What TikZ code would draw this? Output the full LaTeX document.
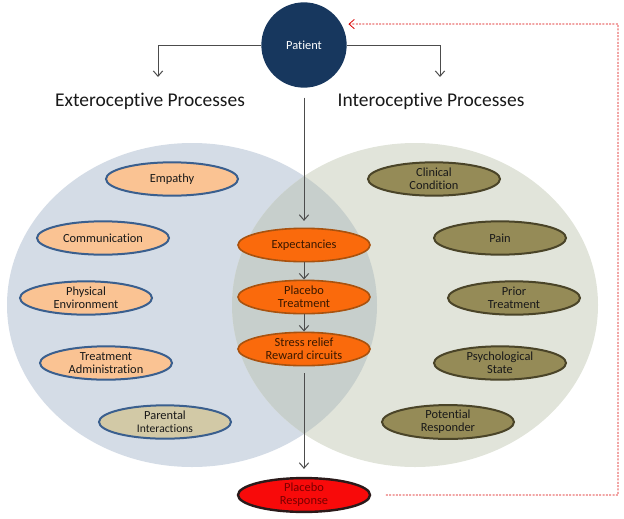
\documentclass[tikz,border=0pt]{standalone}
\usepackage{fontspec}
\setmainfont{Carlito}[Ligatures=CommonOff]
\usetikzlibrary{arrows.meta,shapes.geometric,positioning,calc}
\definecolor{patientblue}{HTML}{17375E}
\definecolor{extbubble}{HTML}{D4DCE6}
\definecolor{intbubble}{HTML}{E1E4DA}
\definecolor{overlap}{HTML}{C7CFCC}
\definecolor{extfill}{HTML}{FAC393}
\definecolor{extborder}{HTML}{3A5F8E}
\definecolor{parentfill}{HTML}{D2C9A6}
\definecolor{intfill}{HTML}{958B57}
\definecolor{intborder}{HTML}{4A4428}
\definecolor{midfill}{HTML}{FA6A0C}
\definecolor{midborder}{HTML}{A8520F}
\definecolor{midtext}{HTML}{3A1800}
\definecolor{respfill}{HTML}{F80A0A}
\definecolor{respborder}{HTML}{2A1A1A}
\definecolor{resptext}{HTML}{7A0000}
\tikzset{every picture/.style={line width=0.75pt}}
\tikzset{
  extbox/.style={ellipse, draw=extborder, line width=1.5pt, fill=extfill,
    minimum width=99pt, minimum height=25pt, inner sep=0pt, align=center,
    font=\fontsize{9.3}{10}\selectfont, text=black!90},
  intbox/.style={extbox, draw=intborder, fill=intfill},
  midbox/.style={extbox, draw=midborder, fill=midfill, line width=1.2pt, text=midtext},
  flow/.style={draw=black!70, -{Straight Barb[length=4pt,width=7pt]}},
  feedback/.style={draw=red!85!black, line width=0.6pt, dash pattern=on 1.5pt off 1pt,
    -{Straight Barb[length=4pt,width=7pt]}},
  heading/.style={font=\fontsize{14.6}{16}\selectfont, text=black!90},
}

\begin{document}
\begin{tikzpicture}[x=0.75pt,y=-0.75pt]
    \useasboundingbox (0,0) rectangle (624,518);

    % two overlapping bubbles
    \fill[extbubble] (192,305) ellipse [x radius=138.75pt, y radius=121.5pt];
    \fill[intbubble] (415,305) ellipse [x radius=137.25pt, y radius=121.5pt];
    \begin{scope}
        \clip (192,305) ellipse [x radius=138.75pt, y radius=121.5pt];
        \fill[overlap] (415,305) ellipse [x radius=137.25pt, y radius=121.5pt];
    \end{scope}

    % patient and the two headings
    \node[circle, fill=patientblue, minimum size=64pt, inner sep=0pt, text=white,
        font=\fontsize{9.3}{10}\selectfont] (patient) at (304,45) {Patient};
    \node[heading] (extero) at (150,101) {Exteroceptive Processes};
    \node[heading] (intero) at (431,101) {Interoceptive Processes};
    \coordinate (exttip) at (158,77);
    \coordinate (inttip) at (440,77);
    \draw[flow] (patient.west) -| (exttip);
    \draw[flow] (patient.east) -| (inttip);

    % exteroceptive factors
    \node[extbox] (empathy) at (172,179) {Empathy};
    \node[extbox] (comm) at (103,238) {Communication};
    \node[extbox] (physical) at (86,298) {Physical\\Environment};
    \node[extbox] (admin) at (106,363) {Treatment\\Administration};
    \node[extbox, fill=parentfill] (parental) at (165,422)
        {Parental\\{\fontsize{8.7}{10}\selectfont Interactions}};

    % interoceptive factors
    \node[intbox] (clinical) at (434,179) {Clinical\\Condition};
    \node[intbox] (pain) at (500,238) {Pain};
    \node[intbox] (prior) at (514,298) {Prior\\Treatment};
    \node[intbox] (psych) at (500,363) {Psychological\\State};
    \node[intbox] (responder) at (448,422) {Potential\\Responder};

    % central chain
    \node[midbox] (expect) at (304,245) {Expectancies};
    \node[midbox] (placebo) at (304,297) {Placebo\\Treatment};
    \node[midbox] (stress) at (304,349) {Stress relief\\Reward circuits};
    \node[midbox, fill=respfill, draw=respborder, text=resptext, line width=1.8pt]
        (response) at (304,495) {Placebo\\Response};

    \draw[flow, shorten >=5pt] ([yshift=-7pt]patient.south) -- (expect);
    \draw[flow] (expect) -- (placebo);
    \draw[flow] (placebo) -- (stress);
    \draw[flow, shorten <=5pt, shorten >=6pt] (stress) -- (response);

    % feedback loop
    \coordinate (fbcorner) at (618,24);
    \draw[feedback, shorten >=5pt] ([xshift=11pt]response.east) -| (fbcorner) -- (patient.29);
\end{tikzpicture}
\end{document}
